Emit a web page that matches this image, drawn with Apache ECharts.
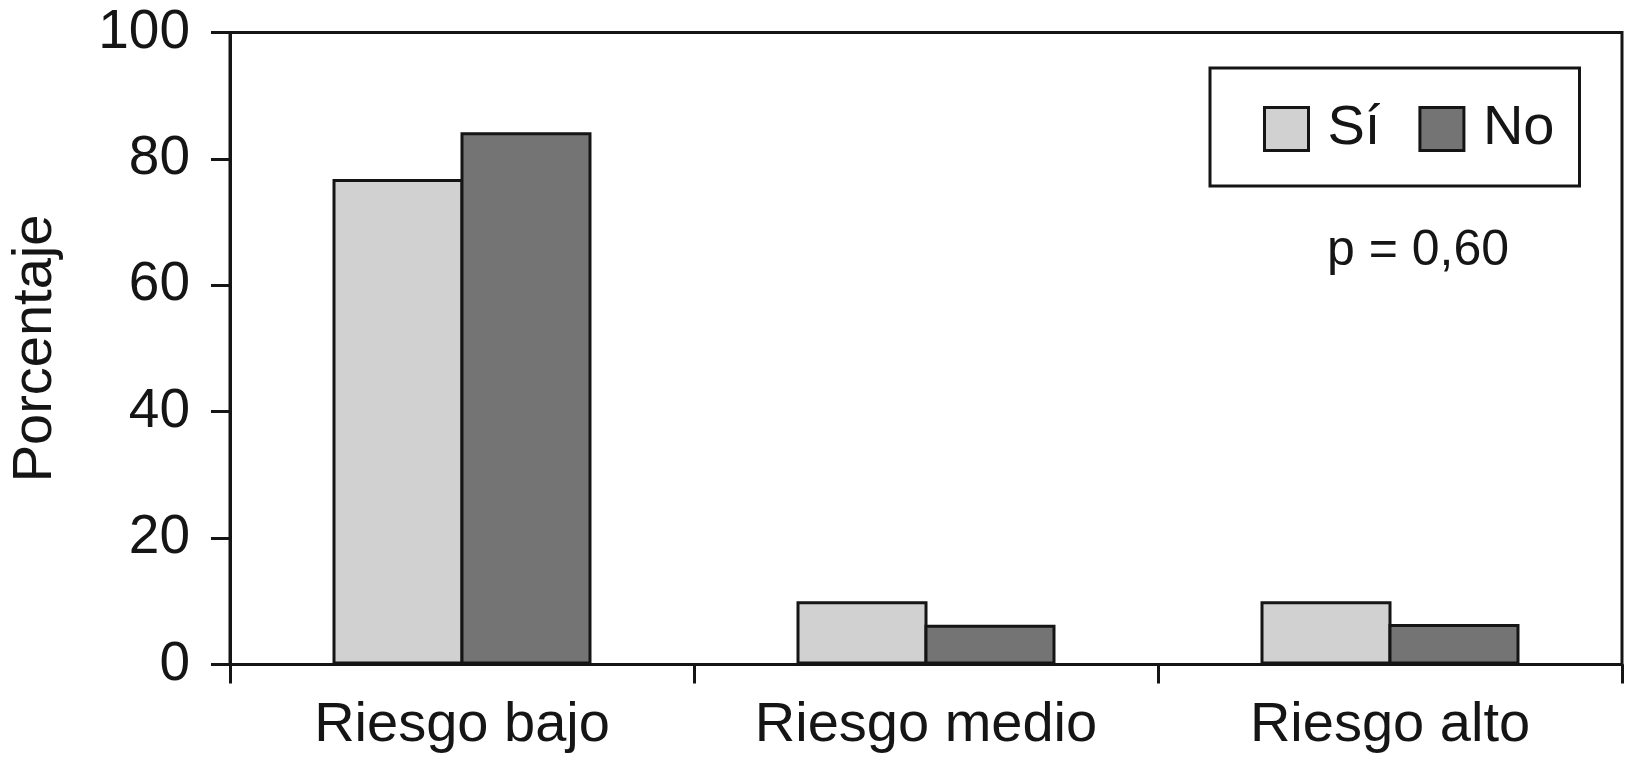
<!DOCTYPE html>
<html>
<head>
<meta charset="utf-8">
<script src="https://cdn.jsdelivr.net/npm/echarts@6/dist/echarts.min.js"></script>
<style>
html,body{margin:0;padding:0;background:#fff;}
#chart{width:1627px;height:763px;}
</style>
</head>
<body>
<div id="chart"></div>
<script>
const categories = ['Riesgo bajo', 'Riesgo medio', 'Riesgo alto'];
const seriesNames = ['Sí', 'No'];
const valuesSi = [76.8, 10, 10];
const valuesNo = [84.2, 6.3, 6.4];
const yTicks = [0, 20, 40, 60, 80, 100];
const yAxisTitle = 'Porcentaje';
const annotation = 'p = 0,60';

const FONT = '"Liberation Sans", Arial, sans-serif';
const INK = '#151515';

const chart = echarts.init(document.getElementById('chart'), null, {renderer: 'canvas'});
chart.setOption({
  backgroundColor: '#ffffff',
  animation: false,
  grid: {
    left: 227, right: 5, top: 32.5, bottom: 98.5,
    show: true, borderColor: INK, borderWidth: 3, backgroundColor: 'transparent'
  },
  legend: {
    data: seriesNames,
    left: 1210, top: 68,
    orient: 'horizontal',
    padding: [33, 25, 29, 53],
    borderColor: INK, borderWidth: 3,
    itemWidth: 44, itemHeight: 43,
    itemGap: 38,
    icon: 'rect',
    itemStyle: {borderColor: INK, borderWidth: 3},
    textStyle: {fontFamily: FONT, fontSize: 56, color: INK, padding: [0, 0, 0, 14]}
  },
  xAxis: {
    type: 'category',
    data: categories,
    axisLine: {lineStyle: {color: INK, width: 3}},
    axisTick: {show: true, length: 19, lineStyle: {color: INK, width: 3}},
    axisLabel: {fontFamily: FONT, fontSize: 56, color: INK, margin: 33}
  },
  yAxis: {
    type: 'value',
    min: yTicks[0], max: yTicks[yTicks.length - 1], interval: yTicks[1] - yTicks[0],
    name: yAxisTitle,
    nameLocation: 'middle',
    nameGap: 166,
    nameTextStyle: {fontFamily: FONT, fontSize: 56, color: INK},
    splitLine: {show: false},
    axisLine: {show: true, lineStyle: {color: INK, width: 3}},
    axisTick: {show: true, length: 19, lineStyle: {color: INK, width: 3}},
    axisLabel: {fontFamily: FONT, fontSize: 55, color: INK, margin: 40}
  },
  series: [
    {
      name: seriesNames[0], type: 'bar', data: valuesSi,
      barWidth: 131, barGap: '-2.3%',
      itemStyle: {color: '#d1d1d1', borderColor: INK, borderWidth: 3}
    },
    {
      name: seriesNames[1], type: 'bar', data: valuesNo,
      barWidth: 131, barGap: '-2.3%',
      itemStyle: {color: '#747474', borderColor: INK, borderWidth: 3}
    }
  ],
  graphic: [
    {
      type: 'text', x: 1418, y: 226,
      style: {text: annotation, fontFamily: FONT, fontSize: 50, fill: INK, textAlign: 'center', textVerticalAlign: 'top'}
    }
  ]
});
</script>
</body>
</html>
